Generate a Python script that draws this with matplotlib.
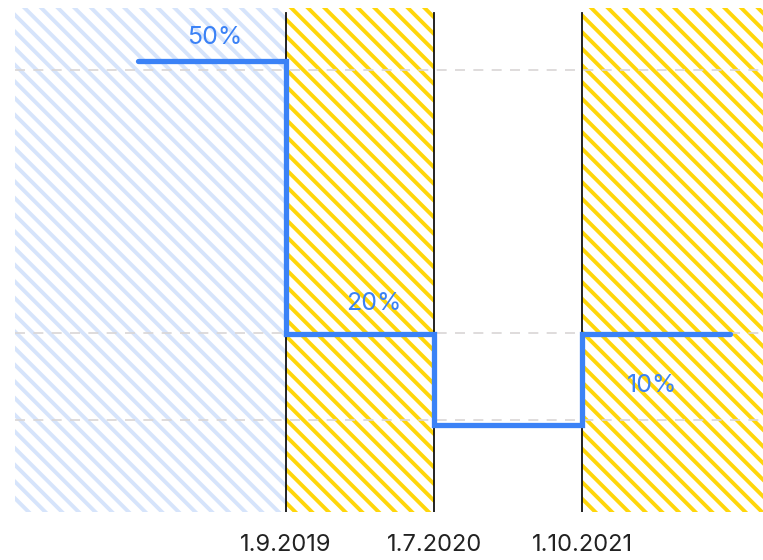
import matplotlib
matplotlib.use('Agg')
import matplotlib.pyplot as plt

plt.rcParams['font.family'] = ['Inter', 'DejaVu Sans']
plt.rcParams['hatch.linewidth'] = 2.8

# change dates (equally spaced on the x axis) and rate per period
dates = ['1.9.2019', '1.7.2020', '1.10.2021']
step_x = [-1, 0, 0, 1, 1, 2, 2, 3]
step_y = [50, 50, 20, 20, 10, 10, 20, 20]

rate_labels = ['50%', '20%', '10%']
label_x = [-0.48, 0.59, 2.47]
label_y = [52.6, 23.4, 14.3]

grid_y = [49, 20.1, 10.6]

blue = '#3b82f6'
yellow = '#ffd60a'
light_blue = '#d6e4fb'

fig = plt.figure(figsize=(7.63, 5.60), dpi=100)
ax = fig.add_axes([15 / 763, 48 / 560, 748 / 763, 504 / 560])

x_min, x_max = -1.83, 3.22
ax.set_xlim(x_min, x_max)
ax.set_ylim(0.45, 55.8)

# shaded periods
ax.axvspan(x_min, 0, facecolor='white', edgecolor=light_blue, hatch='\\\\', linewidth=0, zorder=0)
ax.axvspan(0, 1, facecolor='white', edgecolor=yellow, hatch='\\\\', linewidth=0, zorder=0)
ax.axvspan(2, x_max, facecolor='white', edgecolor=yellow, hatch='\\\\', linewidth=0, zorder=0)

for gy in grid_y:
    ax.axhline(gy, color='#d9d6d6', lw=1.2, ls=(0, (6, 5)), zorder=1)

for i in range(len(dates)):
    ax.axvline(i, ymin=0, ymax=0.99, color='#111111', lw=1.3, zorder=2)

ax.plot(step_x, step_y, color=blue, lw=3.8, solid_capstyle='round',
        solid_joinstyle='miter', zorder=3)

for t, tx, ty in zip(rate_labels, label_x, label_y):
    ax.text(tx, ty, t, color=blue, fontsize=18, ha='center', va='center', zorder=4)

ax.set_xticks(range(len(dates)))
ax.set_xticklabels(dates, fontsize=17, color='#222222')
ax.tick_params(axis='x', length=0, pad=16)
ax.set_yticks([])
for s in ax.spines.values():
    s.set_visible(False)

fig.savefig('out.png', dpi=100)
